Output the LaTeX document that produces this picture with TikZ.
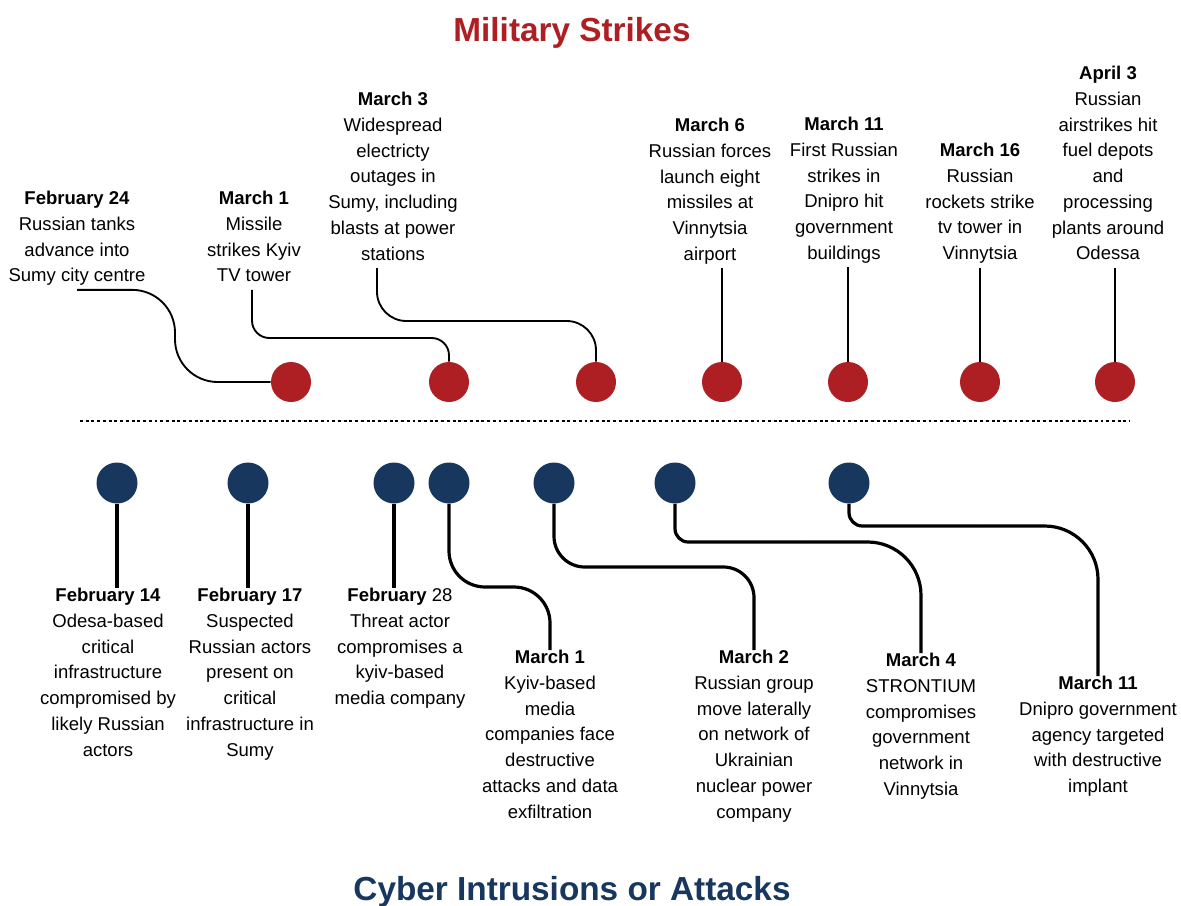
\documentclass[tikz,border=0pt]{standalone}
\usepackage{fontspec}
\setmainfont{Liberation Sans}
\usetikzlibrary{positioning}
\usepackage{xcolor}
\definecolor{strikered}{RGB}{173,31,35}
\definecolor{cybernavy}{RGB}{23,55,94}
\newcommand{\evfont}{\fontsize{13.9pt}{19.3pt}\selectfont}

\begin{document}
\begin{tikzpicture}[x=0.75pt,y=-0.75pt,
	event/.style={align=center,inner sep=0pt,anchor=north,font=\evfont,
		execute at begin node=\strut,execute at end node=\strut},
	heading/.style={anchor=base,font=\fontsize{25pt}{30pt}\selectfont\bfseries},
	strike/.style={circle,fill=strikered,minimum size=30pt,inner sep=0pt},
	cyber/.style={circle,fill=cybernavy,minimum size=30.75pt,inner sep=0pt},
	thinlink/.style={draw,line width=1.4pt},
	thicklink/.style={draw,line width=2.4pt}]
	\useasboundingbox (0,0) rectangle (1181,906);
	
	\node[heading,strikered] (mtitle) at (572,42) {Military Strikes};
	\node[heading,cybernavy] (ctitle) at (572,900) {Cyber Intrusions or Attacks};
	
	% timeline
	\coordinate (tl) at (80,421);
	\coordinate (tr) at (1130,421);
	\draw[line width=2.2pt,dash pattern=on 2.2pt off 2.1pt] (tl) -- (tr);
	
	\begin{scope}[every node/.style={strike}]
		\node (s1) at (291,382) {};
		\node (s2) at (449,382) {};
		\node (s3) at (596,382) {};
		\node (s4) at (722,382) {};
		\node (s5) at (848,382) {};
		\node (s6) at (980,382) {};
		\node (s7) at (1115,382) {};
	\end{scope}
	\begin{scope}[every node/.style={cyber}]
		\node (c1) at (117,483) {};
		\node (c2) at (248,483) {};
		\node (c3) at (394,483) {};
		\node (c4) at (449,483) {};
		\node (c5) at (554,483) {};
		\node (c6) at (675,483) {};
		\node (c7) at (849,483) {};
	\end{scope}
	
	% military strikes
	\node[event] (ms1) at (77,191) {\textbf{February 24}\\Russian tanks\\advance into\\Sumy city centre};
	\node[event] (ms2) at (254,191) {\textbf{March 1}\\Missile\\strikes Kyiv\\TV tower};
	\node[event] (ms3) at (393,92) {\textbf{March 3}\\Widespread\\electricty\\outages in\\Sumy, including\\blasts at power\\stations};
	\node[event] (ms4) at (710,118) {\textbf{March 6}\\Russian forces\\launch eight\\missiles at\\Vinnytsia\\airport};
	\node[event] (ms5) at (844,117) {\textbf{March 11}\\First Russian\\strikes in\\Dnipro hit\\government\\buildings};
	\node[event] (ms6) at (980,143) {\textbf{March 16}\\Russian\\rockets strike\\tv tower in\\Vinnytsia};
	\node[event] (ms7) at (1108,66) {\textbf{April 3}\\Russian\\airstrikes hit\\fuel depots\\and\\processing\\plants around\\Odessa};
	
	% cyber intrusions
	\node[event] (ci1) at (108,588) {\textbf{February 14}\\Odesa-based\\critical\\infrastructure\\compromised by\\likely Russian\\actors};
	\node[event] (ci2) at (250,588) {\textbf{February 17}\\Suspected\\Russian actors\\present on\\critical\\infrastructure in\\Sumy};
	\node[event] (ci3) at (400,588) {\textbf{February} 28\\Threat actor\\compromises a\\kyiv-based\\media company};
	\node[event] (ci4) at (550,650) {\textbf{March 1}\\Kyiv-based\\media\\companies face\\destructive\\attacks and data\\exfiltration};
	\node[event] (ci5) at (754,650) {\textbf{March 2}\\Russian group\\move laterally\\on network of\\Ukrainian\\nuclear power\\company};
	\node[event] (ci6) at (921,653) {\textbf{March 4}\\STRONTIUM\\compromises\\government\\network in\\Vinnytsia};
	\node[event] (ci7) at (1098,676) {\textbf{March 11}\\Dnipro government\\agency targeted\\with destructive\\implant};
	
	\coordinate (k6) at (800,542);
	\coordinate (k7) at (980,526);
	
	\begin{scope}[thinlink]
		\draw[rounded corners=32] (ms1.south) -| (175,382) -- (s1);
		\draw[rounded corners=13] (ms2.south) ++(-2,0) |- (449,338) -- (s2);
		\draw[rounded corners=22] (ms3.south) ++(-16,0) |- (596,321) -- (s3);
		\draw (ms4.south -| s4) -- (s4);
		\draw (ms5.south -| s5) -- (s5);
		\draw (ms6.south -| s6) -- (s6);
		\draw (ms7.south -| s7) -- (s7);
	\end{scope}
	\begin{scope}[thicklink]
		\draw (c1) -- (ci1.north -| c1);
		\draw (c2) -- (ci2.north -| c2);
		\draw (c3) -- (ci3.north -| c3);
		\draw[rounded corners=27] (c4) |- (550,587) -- (ci4);
		\draw[rounded corners=23] (c5) |- (754,567) -- (ci5);
		\draw[rounded corners=10] (c6) |- (k6);
		\draw[rounded corners=40] (k6) -| (ci6);
		\draw[rounded corners=10] (c7) |- (k7);
		\draw[rounded corners=40] (k7) -| (ci7);
	\end{scope}
\end{tikzpicture}
\end{document}
